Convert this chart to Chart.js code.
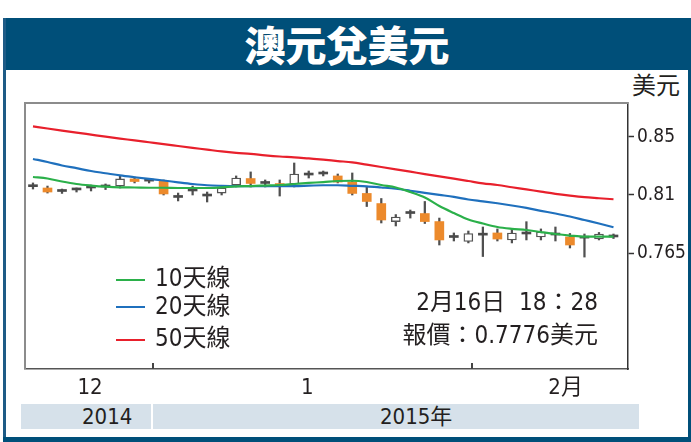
<!DOCTYPE html>
<html><head><meta charset="utf-8">
<script src="https://cdn.jsdelivr.net/npm/chart.js@4/dist/chart.umd.min.js"></script>
<style>
html,body{margin:0;padding:0;background:#fff;}
#wrap{position:relative;width:691px;height:442px;overflow:hidden;font-family:"DejaVu Sans Condensed","Noto Sans CJK TC",sans-serif;color:#231f20;}
.abs{position:absolute;}
#title{left:3px;top:18px;width:688px;height:52px;background:#004f79;color:#fff;text-align:center;font-family:"Noto Sans CJK TC",sans-serif;font-weight:900;font-size:41px;line-height:50px;text-shadow:0 0 1px #06324f;}
#lb{left:3px;top:18px;width:3px;height:424px;background:#1e5b86;}
#rb{left:688px;top:18px;width:3px;height:424px;background:#004f79;}
#bb{left:3px;top:437px;width:688px;height:5px;background:#004f79;}
.yr{top:404px;height:25px;background:#d6e1ea;font-size:22px;line-height:25px;}
.lg{font-size:24px;line-height:26px;height:26px;white-space:nowrap;}
.sw{height:2px;width:29px;left:116px;}
.note{left:0;width:598px;text-align:right;font-size:24px;line-height:26px;height:26px;white-space:nowrap;}
canvas{position:absolute;left:0;top:0;}
</style></head>
<body>
<div id="wrap">
  <div id="title" class="abs">澳元兌美元</div>
  <div id="lb" class="abs"></div>
  <div id="rb" class="abs"></div>
  <div id="bb" class="abs"></div>
  <div class="abs yr" style="left:21px;width:130px;"><span style="position:absolute;left:61px;">2014</span></div>
  <div class="abs yr" style="left:153px;width:486px;"><span style="position:absolute;left:227px;">2015年</span></div>
  <div class="abs" style="left:632px;top:73px;font-size:24px;line-height:26px;">美元</div>
  <canvas id="c" width="691" height="442"></canvas>
  <div class="abs sw" id="sw0" style="top:279px;"></div>
  <div class="abs lg" id="lg0" style="left:155px;top:265px;"></div>
  <div class="abs sw" id="sw1" style="top:306px;"></div>
  <div class="abs lg" id="lg1" style="left:155px;top:293px;"></div>
  <div class="abs sw" id="sw2" style="top:339px;"></div>
  <div class="abs lg" id="lg2" style="left:155px;top:325px;"></div>
  <div class="abs note" style="top:289px;">2月16日&nbsp;&nbsp;18：28</div>
  <div class="abs note" style="top:322px;">報價：0.7776美元</div>
</div>
<script>
// ---- data ----
const dates = ['2014-12-19','2014-12-22','2014-12-23','2014-12-24','2014-12-25','2014-12-26','2014-12-29','2014-12-30','2014-12-31',
  '2015-01-01','2015-01-02','2015-01-05','2015-01-06','2015-01-07','2015-01-08','2015-01-09','2015-01-12','2015-01-13','2015-01-14','2015-01-15','2015-01-16',
  '2015-01-19','2015-01-20','2015-01-21','2015-01-22','2015-01-23','2015-01-26','2015-01-27','2015-01-28','2015-01-29','2015-01-30',
  '2015-02-03','2015-02-04','2015-02-05','2015-02-06','2015-02-09','2015-02-10','2015-02-11','2015-02-12','2015-02-13','2015-02-16'];
const openV  = [0.8166,0.8154,0.8127,0.8139,0.8154,0.8162,0.8169,0.8224,0.8208,0.8208,0.8081,0.8131,0.8092,0.8115,0.8177,0.8227,0.8189,0.8181,0.8185,0.8254,0.8262,0.8247,0.8200,0.8112,0.8034,0.7895,0.7957,0.7957,0.7895,0.7772,0.7741,0.7791,0.7807,0.7753,0.7799,0.7776,0.7791,0.7776,0.7768,0.7760,0.7780];
const highV  = [0.8193,0.8169,0.8146,0.8154,0.8177,0.8185,0.8247,0.8239,0.8224,0.8216,0.8115,0.8169,0.8123,0.8169,0.8247,0.8278,0.8216,0.8216,0.8347,0.8285,0.8285,0.8262,0.8270,0.8162,0.8073,0.7949,0.7984,0.8050,0.7922,0.7807,0.7822,0.7853,0.7838,0.7838,0.7894,0.7838,0.7853,0.7803,0.7799,0.7811,0.7799];
const lowV   = [0.8146,0.8115,0.8112,0.8123,0.8131,0.8142,0.8154,0.8193,0.8193,0.8100,0.8054,0.8100,0.8046,0.8100,0.8162,0.8162,0.8162,0.8092,0.8162,0.8231,0.8247,0.8193,0.8100,0.8011,0.7884,0.7861,0.7922,0.7880,0.7714,0.7745,0.7730,0.7625,0.7745,0.7730,0.7753,0.7753,0.7745,0.7691,0.7621,0.7753,0.7764];
const closeV = [0.8164,0.8123,0.8128,0.8140,0.8155,0.8163,0.8224,0.8204,0.8207,0.8108,0.8082,0.8132,0.8093,0.8154,0.8231,0.8189,0.8190,0.8173,0.8262,0.8255,0.8263,0.8200,0.8112,0.8050,0.7907,0.7930,0.7958,0.7895,0.7753,0.7773,0.7803,0.7790,0.7760,0.7807,0.7800,0.7814,0.7792,0.7714,0.7767,0.7799,0.7776];
const ma10 = [0.8239,0.8227,0.8204,0.8185,0.8173,0.8164,0.8159,0.8158,0.8156,0.8156,0.8154,0.8154,0.8154,0.8159,0.8166,0.8169,0.8173,0.8177,0.8185,0.8193,0.8200,0.8208,0.8210,0.8200,0.8177,0.8158,0.8123,0.8081,0.8015,0.7961,0.7911,0.7880,0.7853,0.7839,0.7830,0.7814,0.7799,0.7787,0.7778,0.7778,0.7778];
const ma20 = [0.8378,0.8355,0.8328,0.8307,0.8285,0.8268,0.8251,0.8237,0.8224,0.8212,0.8198,0.8185,0.8175,0.8171,0.8169,0.8169,0.8169,0.8169,0.8169,0.8172,0.8175,0.8175,0.8171,0.8167,0.8158,0.8148,0.8133,0.8117,0.8101,0.8085,0.8065,0.8051,0.8036,0.8019,0.8000,0.7978,0.7957,0.7934,0.7907,0.7880,0.7851];
const ma50 = [0.8630,0.8613,0.8597,0.8582,0.8566,0.8550,0.8535,0.8522,0.8507,0.8492,0.8478,0.8464,0.8450,0.8436,0.8425,0.8417,0.8406,0.8397,0.8391,0.8382,0.8373,0.8362,0.8352,0.8334,0.8316,0.8298,0.8280,0.8261,0.8244,0.8226,0.8208,0.8190,0.8177,0.8160,0.8143,0.8126,0.8109,0.8095,0.8083,0.8075,0.8067];
const seriesNames = ['10天線','20天線','50天線'];
const seriesColors = ['#2bb04a','#1f70bd','#e8202c'];
const yTickValues = [0.765, 0.81, 0.855];
const yTickLabels = ['0.765','0.81','0.85'];
const monthLabelPos = [3.93, 18.9, 36.7];
const monthLabels = ['12','1','2月'];
const monthBounds = [8.28, 30.28];

// legend (html)
seriesNames.forEach((n,i)=>{
  document.getElementById('lg'+i).textContent = n;
  document.getElementById('sw'+i).style.background = seriesColors[i];
});

const NUMFONT = '"DejaVu Sans Condensed","Noto Sans CJK TC",sans-serif';

const framePlugin = {
  id:'frame',
  afterDraw(chart){
    const {ctx, chartArea:a, scales:{x}} = chart;
    ctx.save();
    ctx.strokeStyle = '#8c8c8c'; ctx.lineWidth = 2;
    ctx.beginPath(); ctx.moveTo(a.left, a.bottom); ctx.lineTo(a.left, a.top); ctx.lineTo(a.right, a.top); ctx.stroke();
    ctx.strokeStyle = '#444'; ctx.lineWidth = 2;
    monthBounds.forEach(v=>{
      const px = Math.round(x.getPixelForValue(v));
      ctx.beginPath(); ctx.moveTo(px, a.bottom); ctx.lineTo(px, a.bottom-6); ctx.stroke();
    });
    ctx.restore();
  }
};

const kind = i => {
  const d = closeV[i]-openV[i];
  if (Math.abs(d) < 0.0005) return 'doji';
  return d < 0 ? 'down' : 'up';
};

const lineDs = [ma10, ma20, ma50].map((arr,k)=>({
  type:'line', label:seriesNames[k],
  data: arr.map((v,i)=>({x:i, y:v})),
  borderColor: seriesColors[k], borderWidth: 2.2,
  pointRadius: 0, cubicInterpolationMode:'monotone', order: 0
}));

new Chart(document.getElementById('c'), {
  type:'bar',
  data:{ datasets:[
    ...lineDs,
    { type:'bar', label:'body',
      data: openV.map((o,i)=>({x:i, y:[o, closeV[i]]})),
      backgroundColor: c => { const k = kind(c.dataIndex); return k==='down' ? '#ec8a2c' : (k==='up' ? '#ffffff' : '#4a4a4a'); },
      borderColor: c => kind(c.dataIndex)==='up' ? '#555' : 'rgba(0,0,0,0)',
      borderWidth: c => kind(c.dataIndex)==='up' ? 1.4 : 0,
      borderSkipped: false,
      barThickness: 9, minBarLength: 2, grouped:false, order: 1 },
    { type:'bar', label:'wick',
      data: lowV.map((l,i)=>({x:i, y:[l, highV[i]]})),
      backgroundColor:'#505050', barThickness: 1.6, grouped:false, order: 2 }
  ]},
  options:{
    responsive:false, animation:false, devicePixelRatio:1,
    layout:{padding:{left:25, top:103, right:0, bottom:43}},
    plugins:{legend:{display:false}, tooltip:{enabled:false}},
    scales:{
      x:{ type:'linear', min:-0.55, max:41.0, offset:false,
          grid:{display:false, drawTicks:false},
          border:{display:true, color:'#555', width:1.5},
          afterBuildTicks: s => { s.ticks = monthLabelPos.map(v=>({value:v})); },
          afterFit: s => { s.height = 30; },
          ticks:{ autoSkip:false, maxRotation:0, padding:6, color:'#231f20',
                  font:{family:NUMFONT, size:22},
                  callback:(v,i)=>monthLabels[i] } },
      y:{ position:'right', min:0.6757, max:0.8810,
          grid:{drawOnChartArea:false, drawTicks:true, tickLength:6, tickColor:'#333', tickWidth:1.5},
          border:{display:true, color:'#333', width:1.5},
          afterBuildTicks: s => { s.ticks = yTickValues.map(v=>({value:v})); },
          afterFit: s => { s.width = 63; },
          ticks:{ padding:3, color:'#231f20', font:{family:NUMFONT, size:19},
                  callback:(v,i)=>yTickLabels[i] } }
    }
  },
  plugins:[framePlugin]
});
</script>
</body></html>
